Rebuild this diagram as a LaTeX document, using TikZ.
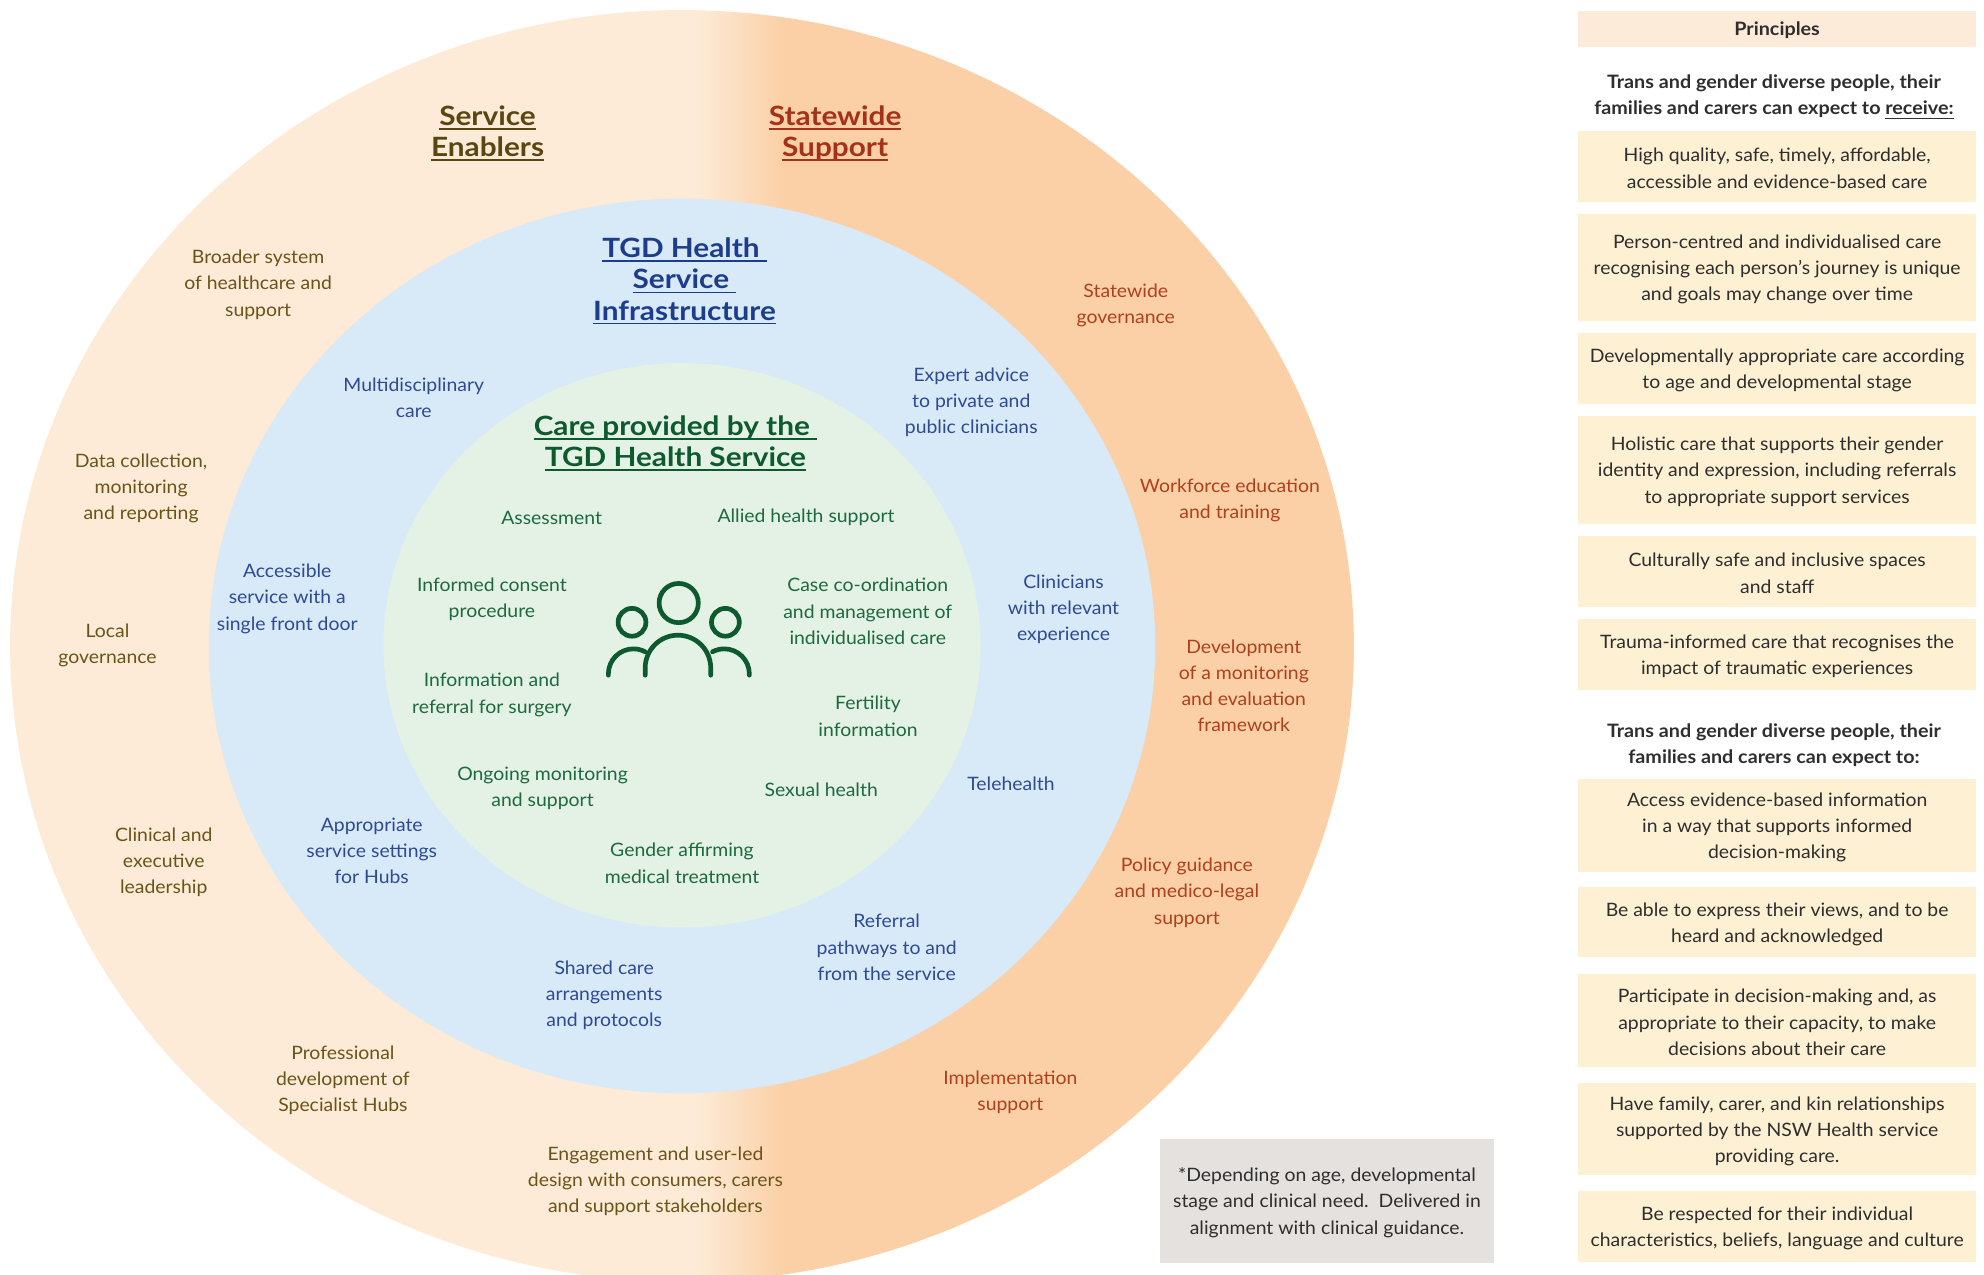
\documentclass[tikz,border=0pt]{standalone}
\usepackage{fontspec}
\setmainfont{Lato}[FakeStretch=1.05]
\newfontfamily\headfont{Lato}[FakeStretch=1.12]
\newfontfamily\phdfont{Lato}[FakeStretch=1.07]
\definecolor{peach}{HTML}{FDEBD7}
\definecolor{orng}{HTML}{FBD0A7}
\definecolor{bluebg}{HTML}{D8E9F7}
\definecolor{greenbg}{HTML}{E4F1E5}
\definecolor{ybox}{HTML}{FEF0D2}
\definecolor{pboxc}{HTML}{FDEBD9}
\definecolor{gboxc}{HTML}{E5E1DF}
\definecolor{ltxt}{HTML}{6A5418}
\definecolor{lhead}{HTML}{5B4611}
\definecolor{rtxt}{HTML}{B0401C}
\definecolor{rhead}{HTML}{A53218}
\definecolor{btxt}{HTML}{2D4B93}
\definecolor{bhead}{HTML}{1C3D8C}
\definecolor{gtxt}{HTML}{1D6A3E}
\definecolor{ghead}{HTML}{0D5A2E}
\definecolor{ptxt}{HTML}{2E2E2E}
\newcommand\myul[1]{\setbox0\hbox{#1}\rlap{\rule[-3.5pt]{\wd0}{1.3pt}}\box0}
\tikzset{
  txt/.style={align=center, inner sep=0pt, yshift=-1.5pt, font=\fontsize{14.6}{20.7}\selectfont},
  lt/.style={txt, text=ltxt},
  rt/.style={txt, text=rtxt},
  bt/.style={txt, text=btxt},
  gt/.style={txt, text=gtxt},
  head/.style={align=center, inner sep=0pt, yshift=-1.2pt, font=\headfont\fontsize{21}{24.7}\selectfont\bfseries},
  pbx/.style={fill=ybox, minimum width=315pt, inner sep=0pt, align=center, text=ptxt,
              font=\fontsize{14.6}{20.7}\selectfont},
  phd/.style={align=center, inner sep=0pt, yshift=-1.2pt, text=ptxt, font=\phdfont\fontsize{14.6}{20.7}\selectfont\bfseries},
  icon/.style={draw=ghead, line width=3.7pt, line cap=round}
}
\begin{document}
\begin{tikzpicture}[x=1pt,y=-1pt]
\useasboundingbox (0,0) rectangle (1568,1007);
\clip (0,0) rectangle (1568,1007);
% outer ring with two halves
\begin{scope}
  \clip (539,510.5) ellipse [x radius=531pt, y radius=502.5pt];
  \fill[peach] (0,0) rectangle (552,1020);
  \shade[left color=peach, right color=orng] (551,0) rectangle (618,1020);
  \fill[orng] (617,0) rectangle (1100,1020);
\end{scope}
\fill[bluebg] (539,510.5) ellipse [x radius=374pt, y radius=353.5pt];
\fill[greenbg] (539,510) ellipse [x radius=236pt, y radius=223pt];

% headings
\node[head, text=lhead] (se) at (385.3,104) {\myul{Service}\\\myul{Enablers}};
\node[head, text=rhead] (ss) at (660,104) {\myul{Statewide}\\\myul{Support}};
\node[head, text=bhead] (tgd) at (541,221) {\myul{TGD Health\ }\\\myul{Service\ }\\\myul{Infrastructure}};
\node[head, text=ghead] (care) at (533.8,349) {\myul{Care provided by the\ }\\\myul{TGD Health Service}};

% service enablers
\node[lt] (l1) at (204,223.5) {Broader system\\of healthcare and\\support};
\node[lt] (l2) at (111.5,384.3) {Data collection,\\monitoring\\and reporting};
\node[lt] (l3) at (85,508.7) {Local\\governance};
\node[lt] (l4) at (129.4,680) {Clinical and\\executive\\leadership};
\node[lt] (l5) at (271,852.3) {Professional\\development of\\Specialist Hubs};
\node[lt] (l6) at (518,932) {Engagement and user-led\\design with consumers, carers\\and support stakeholders};

% statewide support
\node[rt] (r1) at (889.7,240) {Statewide\\governance};
\node[rt] (r2) at (972,394) {Workforce education\\and training};
\node[rt] (r3) at (983,540.5) {Development\\of a monitoring\\and evaluation\\framework};
\node[rt] (r4) at (938,704) {Policy guidance\\and medico-legal\\support};
\node[rt] (r5) at (798.5,861.5) {Implementation\\support};

% infrastructure
\node[bt] (b1) at (327,313) {Multidisciplinary\\care};
\node[bt] (b2) at (767.6,316.5) {Expert advice\\to private and\\public clinicians};
\node[bt] (b3) at (227,471.8) {Accessible\\service with a\\single front door};
\node[bt] (b4) at (840.5,480) {Clinicians\\with relevant\\experience};
\node[bt] (b5) at (799,617.8) {Telehealth};
\node[bt] (b6) at (293.8,670.7) {Appropriate\\service settings\\for Hubs};
\node[bt] (b7) at (700.8,747.2) {Referral\\pathways to and\\from the service};
\node[bt] (b8) at (477.5,785) {Shared care\\arrangements\\and protocols};

% care provided
\node[gt] (g1) at (436,407.6) {Assessment};
\node[gt] (g2) at (637,407.6) {Allied health support};
\node[gt] (g3) at (388.8,471.8) {Informed consent\\procedure};
\node[gt] (g4) at (685.8,481.6) {Case co-ordination\\and management of\\individualised care};
\node[gt] (g5) at (388.8,547.7) {Information and\\referral for surgery};
\node[gt] (g6) at (686,564.5) {Fertility\\information};
\node[gt] (g7) at (428.8,621.3) {Ongoing monitoring\\and support};
\node[gt] (g8) at (649,622.6) {Sexual health};
\node[gt] (g9) at (539,680.8) {Gender affirming\\medical treatment};

% people icon
\draw[icon] (536.4,476.6) circle [radius=15.5pt];
\draw[icon] (499.5,491.8) circle [radius=11pt];
\draw[icon] (573.3,491.8) circle [radius=11pt];
\draw[icon] (480.8,533.6) -- (480.8,532.6) arc [start angle=180, end angle=62, radius=19.8pt];
\draw[icon] (592.2,533.6) -- (592.2,532.6) arc [start angle=0, end angle=118, radius=19.8pt];
\draw[icon] (509.9,533.6) -- (509.9,527.9) arc [start angle=180, end angle=0, radius=25.9pt] -- (561.7,533.6);

% footnote
\node[fill=gboxc, minimum width=264.5pt, minimum height=98pt, inner sep=0pt, align=center,
      text=ptxt, font=\fontsize{14.6}{20.7}\selectfont] (fn) at (1048.75,949) {};
\node[txt, text=ptxt] (fnt) at (fn.center)
  {*Depending on age, developmental\\stage and clinical need.\ \ Delivered in\\alignment with clinical guidance.};

% principles panel
\node[fill=pboxc, minimum width=315pt, minimum height=28.3pt, inner sep=0pt] (pr) at (1404.5,22.85) {};
\node[phd] (prt) at (pr.center) {Principles};
\node[phd] (h1) at (1402,75.5) {Trans and gender diverse people, their\\families and carers can expect to \myul{receive:}};
\node[pbx, minimum height=56pt] (p1) at (1404.5,131.5) {};
\node[txt, text=ptxt] at (p1.center) {High quality, safe, timely, affordable,\\accessible and evidence-based care};
\node[pbx, minimum height=85pt] (p2) at (1404.5,211.5) {};
\node[txt, text=ptxt] at (p2.center) {Person-centred and individualised care\\recognising each person’s journey is unique\\and goals may change over time};
\node[pbx, minimum height=56pt] (p3) at (1404.5,291) {};
\node[txt, text=ptxt] at (p3.center) {Developmentally appropriate care according\\to age and developmental stage};
\node[pbx, minimum height=85.3pt] (p4) at (1404.5,371.35) {};
\node[txt, text=ptxt] at (p4.center) {Holistic care that supports their gender\\identity and expression, including referrals\\to appropriate support services};
\node[pbx, minimum height=55.9pt] (p5) at (1404.5,451.55) {};
\node[txt, text=ptxt] at (p5.center) {Culturally safe and inclusive spaces\\and staff};
\node[pbx, minimum height=56pt] (p6) at (1404.5,517) {};
\node[txt, text=ptxt] at (p6.center) {Trauma-informed care that recognises the\\impact of traumatic experiences};
\node[phd] (h2) at (1402,588) {Trans and gender diverse people, their\\families and carers can expect to:};
\node[pbx, minimum height=73.4pt] (p7) at (1404.5,652.3) {};
\node[txt, text=ptxt] at (p7.center) {Access evidence-based information\\in a way that supports informed\\decision-making};
\node[pbx, minimum height=55.6pt] (p8) at (1404.5,728.8) {};
\node[txt, text=ptxt] at (p8.center) {Be able to express their views, and to be\\heard and acknowledged};
\node[pbx, minimum height=73pt] (p9) at (1404.5,806.5) {};
\node[txt, text=ptxt] at (p9.center) {Participate in decision-making and, as\\appropriate to their capacity, to make\\decisions about their care};
\node[pbx, minimum height=73pt] (p10) at (1404.5,892.5) {};
\node[txt, text=ptxt] at (p10.center) {Have family, carer, and kin relationships\\supported by the NSW Health service\\providing care.};
\node[pbx, minimum height=56pt] (p11) at (1404.5,969) {};
\node[txt, text=ptxt] at (p11.center) {Be respected for their individual\\characteristics, beliefs, language and culture};
\end{tikzpicture}
\end{document}
